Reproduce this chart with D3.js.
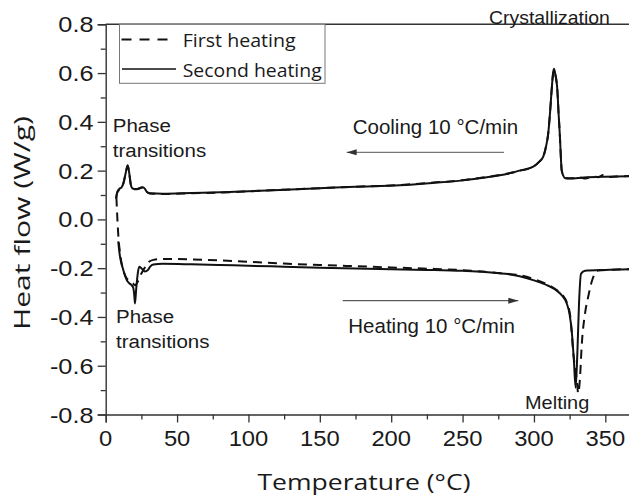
<!DOCTYPE html>
<html>
<head>
<meta charset="utf-8">
<script src="https://cdn.jsdelivr.net/npm/d3@7"></script>
<style>
  html, body { margin: 0; padding: 0; background: #fff; }
  svg { display: block; }
</style>
</head>
<body>
<svg id="chart" width="629" height="498"></svg>
<script>
// DSC thermograms: heat flow (W/g) against temperature (°C)
const xTicks = [0, 50, 100, 150, 200, 250, 300, 350];
const yTicks = [-0.8, -0.6, -0.4, -0.2, 0.0, 0.2, 0.4, 0.6, 0.8];
const legendLabels = ["First heating", "Second heating"];

// Cooling traces (upper curves)
const coolingFirst = [
  [7.4, 0.088], [8, 0.108], [9.5, 0.122], [11, 0.13], [12.5, 0.15], [14, 0.19],
  [15.4, 0.22], [16.5, 0.19], [17.5, 0.145], [18.5, 0.128], [20, 0.124], [22, 0.124],
  [24.5, 0.129], [26, 0.131], [27.5, 0.124], [29, 0.112], [31, 0.106], [40, 0.104],
  [60, 0.107], [80, 0.11], [100, 0.115], [122, 0.121], [150, 0.128], [175, 0.134],
  [206, 0.141], [230, 0.151], [250, 0.161], [262, 0.17], [275, 0.181], [285, 0.192],
  [292, 0.202], [299.5, 0.216], [303.5, 0.236], [306.5, 0.258], [308.5, 0.3],
  [310, 0.352], [311.3, 0.44], [312.4, 0.53], [313.3, 0.592], [314.1, 0.612],
  [314.9, 0.596], [316.4, 0.528], [317.3, 0.43], [318.2, 0.338], [318.9, 0.25],
  [319.4, 0.203], [320.5, 0.18], [321.8, 0.17], [326, 0.169], [332, 0.172],
  [336, 0.168], [341, 0.176], [345, 0.173], [348.5, 0.182], [352, 0.174],
  [358, 0.176], [370, 0.178]
];
const coolingSecond = [
  [7.2, 0.085], [8, 0.11], [9.5, 0.125], [11, 0.13], [12.5, 0.15], [14, 0.19],
  [15.4, 0.222], [16.5, 0.19], [17.5, 0.145], [18.5, 0.128], [20, 0.125], [22, 0.125],
  [24.5, 0.13], [26, 0.132], [27.5, 0.125], [29, 0.112], [31, 0.107], [40, 0.105],
  [60, 0.108], [80, 0.111], [100, 0.115], [122, 0.121], [150, 0.128], [175, 0.134],
  [206, 0.14], [230, 0.15], [250, 0.16], [262, 0.169], [275, 0.18], [285, 0.192],
  [292, 0.203], [299.5, 0.216], [303.5, 0.235], [306.5, 0.257], [308.5, 0.3],
  [310, 0.353], [311.3, 0.44], [312.4, 0.531], [313.3, 0.595], [314, 0.618],
  [314.8, 0.6], [316.4, 0.53], [317.3, 0.43], [318.2, 0.339], [318.9, 0.25],
  [319.4, 0.203], [320.5, 0.18], [321.8, 0.169], [325, 0.168], [335, 0.172],
  [350, 0.175], [370, 0.177]
];

// Heating traces (lower curves)
const heatingFirst = [
  [7.5, 0.09], [8.2, 0.0], [9, -0.08], [10, -0.135], [11, -0.175], [12.5, -0.212],
  [14.5, -0.24], [17, -0.252], [19, -0.262], [20.5, -0.27], [22.5, -0.255],
  [25, -0.222], [27.8, -0.194], [30, -0.175], [33.4, -0.166], [40, -0.162],
  [60, -0.164], [80, -0.168], [100, -0.174], [125, -0.181], [150, -0.187],
  [175, -0.192], [200, -0.197], [225, -0.202], [250, -0.208], [265, -0.215],
  [280, -0.222], [290, -0.229], [300, -0.245], [310, -0.268], [316, -0.29],
  [320, -0.31], [323, -0.34], [325.5, -0.4], [327.6, -0.55], [330, -0.658],
  [331, -0.713], [332.3, -0.645], [333.4, -0.522], [335.8, -0.385], [338, -0.317],
  [340.5, -0.255], [342.8, -0.221], [345, -0.21], [355, -0.206], [370, -0.204]
];
const heatingSecond = [
  [8.8, -0.09], [9.5, -0.13], [10.1, -0.155], [11, -0.18], [12.3, -0.207],
  [13.5, -0.23], [14.7, -0.248], [16.5, -0.262], [18.2, -0.27], [19.3, -0.28],
  [20, -0.31], [20.5, -0.345], [21.3, -0.29], [22.5, -0.22], [23.5, -0.194],
  [25, -0.2], [27.5, -0.214], [29.5, -0.208], [31, -0.195], [33.4, -0.185],
  [40, -0.182], [60, -0.184], [80, -0.187], [100, -0.19], [125, -0.194],
  [150, -0.198], [175, -0.201], [200, -0.204], [225, -0.207], [250, -0.211],
  [265, -0.215], [280, -0.223], [290, -0.233], [300, -0.25], [310, -0.272],
  [316, -0.292], [320, -0.315], [323, -0.345], [325, -0.39], [326.5, -0.46],
  [328, -0.58], [329.2, -0.69], [330.4, -0.55], [331.6, -0.34], [333, -0.222],
  [335.8, -0.211], [350, -0.207], [370, -0.204]
];

const svg = d3.select("#chart");
const plot = { left: 105.7, top: 24.3, bottom: 414.5 };
const x = d3.scaleLinear().domain([0, 370]).range([plot.left, plot.left + 370 * 1.4275]);
const y = d3.scaleLinear().domain([-0.8, 0.8]).range([plot.bottom, plot.top]);

const axisColor = "#333";
const tickFont = "'Liberation Sans', Arial, sans-serif";
const titleFont = "'Open Sans', 'Noto Sans', sans-serif";

svg.append("defs").append("clipPath").attr("id", "plotClip")
  .append("rect")
  .attr("x", plot.left).attr("y", plot.top)
  .attr("width", x.range()[1] - plot.left).attr("height", plot.bottom - plot.top);

// Stretched text helper
function label(g, str, px, py, opts) {
  const o = Object.assign({ size: 20, sx: 1, anchor: "start", font: tickFont, fill: "#1a1a1a" }, opts || {});
  return g.append("text")
    .attr("transform", `translate(${px},${py}) scale(${o.sx},1)`)
    .attr("text-anchor", o.anchor)
    .attr("font-family", o.font)
    .attr("font-size", o.size)
    .attr("fill", o.fill)
    .text(str);
}

// Axes: major ticks with labels, minor ticks between
const xMinor = d3.range(25, 370, 50);
const yMinor = d3.range(-0.7, 0.8, 0.2).map(v => +v.toFixed(1));

const xAxisG = svg.append("g").attr("transform", `translate(0,${plot.bottom})`)
  .call(d3.axisBottom(x).tickValues(xTicks).tickSize(8).tickFormat(""));
xAxisG.append("g").call(d3.axisBottom(x).tickValues(xMinor).tickSize(5).tickFormat(""))
  .select(".domain").remove();
const yAxisG = svg.append("g").attr("transform", `translate(${plot.left},0)`)
  .call(d3.axisLeft(y).tickValues(yTicks).tickSize(8).tickFormat(""));
yAxisG.append("g").call(d3.axisLeft(y).tickValues(yMinor).tickSize(5).tickFormat(""))
  .select(".domain").remove();
svg.selectAll(".domain").attr("stroke", axisColor).attr("stroke-width", 1.4);
svg.selectAll(".tick line").attr("stroke", axisColor).attr("stroke-width", 1.3);

// top frame line
svg.append("line")
  .attr("x1", plot.left).attr("x2", x.range()[1])
  .attr("y1", plot.top).attr("y2", plot.top)
  .attr("stroke", axisColor).attr("stroke-width", 1.4);

const labels = svg.append("g");
xTicks.forEach(t => label(labels, String(t), x(t), 446, { size: 22, sx: 1.08, anchor: "middle" }));
yTicks.forEach(t => label(labels, t.toFixed(1), 93.5, y(t) + 8, { size: 22, sx: 1.15, anchor: "end" }));

// Axis titles
svg.append("text")
  .attr("x", 364).attr("y", 490)
  .attr("text-anchor", "middle")
  .attr("font-family", titleFont).attr("font-size", 22)
  .attr("textLength", 213).attr("lengthAdjust", "spacingAndGlyphs")
  .attr("fill", "#1a1a1a")
  .text("Temperature (°C)");
svg.append("text")
  .attr("transform", `translate(30,223) rotate(-90)`)
  .attr("text-anchor", "middle")
  .attr("font-family", titleFont).attr("font-size", 22)
  .attr("textLength", 214).attr("lengthAdjust", "spacingAndGlyphs")
  .attr("fill", "#1a1a1a")
  .text("Heat flow (W/g)");

// Curves
const line = d3.line().x(d => x(d[0])).y(d => y(d[1])).curve(d3.curveMonotoneX);
const curves = svg.append("g").attr("clip-path", "url(#plotClip)");
const styleDash = "9,6";
[[coolingSecond, null], [heatingSecond, null], [coolingFirst, styleDash], [heatingFirst, styleDash]]
  .forEach(([data, dash]) => {
    curves.append("path")
      .datum(data)
      .attr("d", line)
      .attr("fill", "none")
      .attr("stroke", "#111")
      .attr("stroke-width", 2)
      .attr("stroke-linejoin", "round")
      .attr("stroke-dasharray", dash);
  });

// Legend
const lg = svg.append("g");
lg.append("rect")
  .attr("x", 119.5).attr("y", plot.top)
  .attr("width", 205.5).attr("height", 59)
  .attr("fill", "#fff").attr("stroke", "#777").attr("stroke-width", 1);
lg.append("line").attr("x1", 121.5).attr("x2", 172).attr("y1", 39.5).attr("y2", 39.5)
  .attr("stroke", "#111").attr("stroke-width", 1.8).attr("stroke-dasharray", "10,8");
lg.append("line").attr("x1", 122).attr("x2", 176).attr("y1", 69).attr("y2", 69)
  .attr("stroke", "#111").attr("stroke-width", 1.5);
[[legendLabels[0], 46.5, 113], [legendLabels[1], 76.5, 139]].forEach(([s, by, w]) => {
  lg.append("text")
    .attr("x", 182.7).attr("y", by)
    .attr("font-family", titleFont).attr("font-size", 18.5)
    .attr("textLength", w).attr("lengthAdjust", "spacingAndGlyphs")
    .attr("fill", "#1a1a1a")
    .text(s);
});

// Annotations
const ann = svg.append("g");
label(ann, "Phase", 112.7, 131.7, { size: 19, sx: 1.08 });
label(ann, "transitions", 112.7, 157.3, { size: 19, sx: 1.08 });
label(ann, "Phase", 116, 323.3, { size: 19, sx: 1.08 });
label(ann, "transitions", 116, 348, { size: 19, sx: 1.08 });
label(ann, "Crystallization", 489, 24, { size: 18, sx: 1.08 });
label(ann, "Cooling 10 °C/min", 352.7, 134.3, { size: 20.5, sx: 1.0 });
label(ann, "Heating 10 °C/min", 348.3, 333, { size: 20.5, sx: 1.0 });
label(ann, "Melting", 525, 409, { size: 19, sx: 1.05 });

// Rate arrows
const defs = svg.select("defs");
defs.append("marker").attr("id", "head")
  .attr("viewBox", "0 0 10 6").attr("refX", 10).attr("refY", 3)
  .attr("markerWidth", 10).attr("markerHeight", 6).attr("markerUnits", "userSpaceOnUse")
  .attr("orient", "auto")
  .append("path").attr("d", "M0,0 L10,3 L0,6 Z").attr("fill", "#333");
ann.append("line")
  .attr("x1", 504).attr("y1", 152.3).attr("x2", 346.7).attr("y2", 152.3)
  .attr("stroke", "#555").attr("stroke-width", 1).attr("marker-end", "url(#head)");
ann.append("line")
  .attr("x1", 342.7).attr("y1", 300.7).attr("x2", 518.3).attr("y2", 300.7)
  .attr("stroke", "#333").attr("stroke-width", 1).attr("marker-end", "url(#head)");
</script>
</body>
</html>
